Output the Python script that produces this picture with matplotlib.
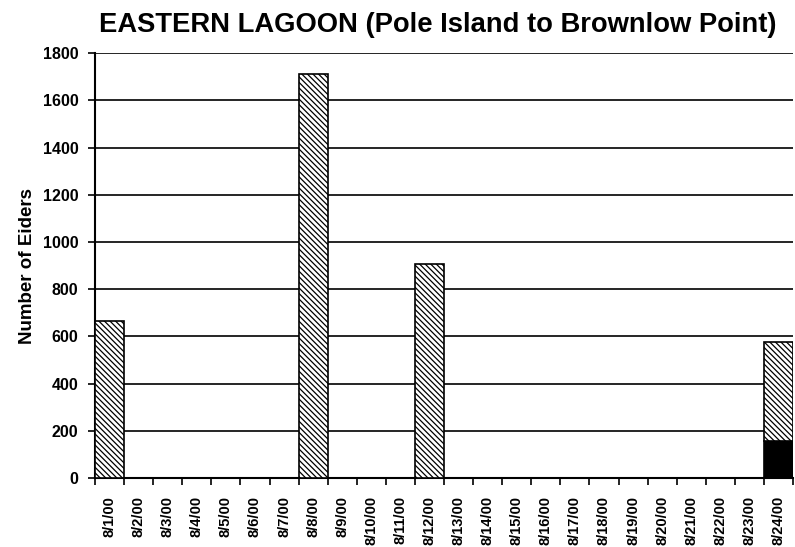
import numpy as np
import matplotlib
matplotlib.use('Agg')
import matplotlib.pyplot as plt

plt.rcParams['font.family'] = ['Liberation Sans', 'DejaVu Sans']
plt.rcParams['hatch.linewidth'] = 0.9

dates = ['8/%d/00' % d for d in range(1, 25)]
# hatched part of each bar
eiders_hatched = [665, 0, 0, 0, 0, 0, 0, 1710, 0, 0, 0, 905,
                  0, 0, 0, 0, 0, 0, 0, 0, 0, 0, 0, 420]
# solid black part (only on the last day)
eiders_solid = [0, 0, 0, 0, 0, 0, 0, 0, 0, 0, 0, 0,
                0, 0, 0, 0, 0, 0, 0, 0, 0, 0, 0, 155]

x = np.arange(len(dates))

fig = plt.figure(figsize=(7.95, 5.47), dpi=100)
ax = fig.add_axes([0.1195, 0.126, 0.878, 0.777])

ax.bar(x, eiders_solid, width=1.0, color='black', edgecolor='black', linewidth=1.2, zorder=3)
ax.bar(x, eiders_hatched, width=1.0, bottom=eiders_solid, color='white', edgecolor='black',
       hatch='\\\\\\\\\\\\', linewidth=1.2, zorder=3)

ax.set_xlim(-0.5, len(dates) - 0.5)
ax.set_ylim(0, 1800)
ax.set_yticks(range(0, 1801, 200))
ax.yaxis.grid(True, color='black', linewidth=1.2, zorder=0)
ax.set_axisbelow(True)

# ticks sit between categories, labels under each bar
ax.set_xticks(np.arange(-0.5, len(dates), 1.0))
ax.set_xticklabels([])
ax.set_xticks(x, minor=True)
ax.set_xticklabels(dates, minor=True, rotation=90, fontsize=10.5, fontweight='bold')
ax.tick_params(axis='x', which='minor', length=0, pad=13)
ax.tick_params(axis='x', which='major', length=5, width=1.2, direction='out')
ax.tick_params(axis='y', length=5, width=1.2, labelsize=11.5, pad=7)
for lbl in ax.get_yticklabels():
    lbl.set_fontweight('bold')

for s in ['top', 'right']:
    ax.spines[s].set_visible(False)
ax.spines['left'].set_linewidth(1.5)
ax.spines['bottom'].set_linewidth(1.5)

ax.set_ylabel('Number of Eiders', fontsize=13.5, fontweight='bold', labelpad=5)
fig.text(0.55, 0.954, 'EASTERN LAGOON (Pole Island to Brownlow Point)', ha='center', va='center',
         fontsize=19.7, fontweight='bold')

fig.savefig('out.png', dpi=100)
